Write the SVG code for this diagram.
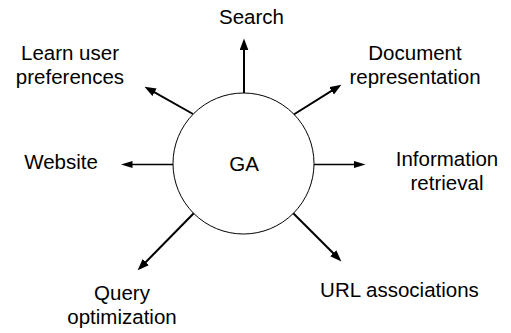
<svg xmlns="http://www.w3.org/2000/svg" width="511" height="333" viewBox="0 0 511 333">
<defs>
<marker id="ah" markerUnits="userSpaceOnUse" markerWidth="12" markerHeight="10" viewBox="0 0 12 10" refX="5" refY="4.5" orient="auto">
<path d="M0,0.2 L11.5,4.5 L0,8.8 Z" fill="#000"/>
</marker>
<marker id="ahs" markerUnits="userSpaceOnUse" markerWidth="12" markerHeight="10" viewBox="0 0 12 10" refX="5" refY="4.5" orient="auto">
<path d="M0,1 L11.5,4.5 L0,8 Z" fill="#000"/>
</marker>
<style>
text{font-family:"Liberation Sans",Arial,sans-serif;font-size:20.5px;fill:#000;text-anchor:middle}
.c{fill:#fff;stroke:#000;stroke-width:1}
.a{stroke:#000;stroke-width:2;fill:none;marker-end:url(#ah)}
.t{stroke:#000;stroke-width:1.5;fill:none;marker-end:url(#ahs)}
</style>
</defs>
<rect width="511" height="333" fill="#fff"/>
<g id="connectors">
<line class="a" x1="244" y1="93" x2="244" y2="45"/>
<line class="a" x1="293" y1="115" x2="335.9" y2="88.2"/>
<line class="a" x1="193" y1="114" x2="150.2" y2="89.9"/>
<line class="t" x1="173" y1="164.5" x2="127.5" y2="164.5"/>
<line class="t" x1="314" y1="164.5" x2="359" y2="164.5"/>
<line class="a" x1="194" y1="213" x2="142.2" y2="265.7"/>
<line class="a" x1="293" y1="213" x2="336.8" y2="256.8"/>
</g>
<g id="ga">
<circle class="c" cx="243.5" cy="163.5" r="70.5"/>
<text x="244" y="171">GA</text>
</g>
<g id="search"><text x="251.5" y="24">Search</text></g>
<g id="document"><text x="415" y="60">Document</text><text x="415" y="84">representation</text></g>
<g id="learn"><text x="70" y="60">Learn user</text><text x="70" y="84">preferences</text></g>
<g id="website"><text x="61" y="169">Website</text></g>
<g id="information"><text x="447" y="166">Information</text><text x="447" y="189.5">retrieval</text></g>
<g id="query"><text x="122" y="300">Query</text><text x="122" y="324">optimization</text></g>
<g id="url"><text x="399.5" y="297">URL associations</text></g>
</svg>
